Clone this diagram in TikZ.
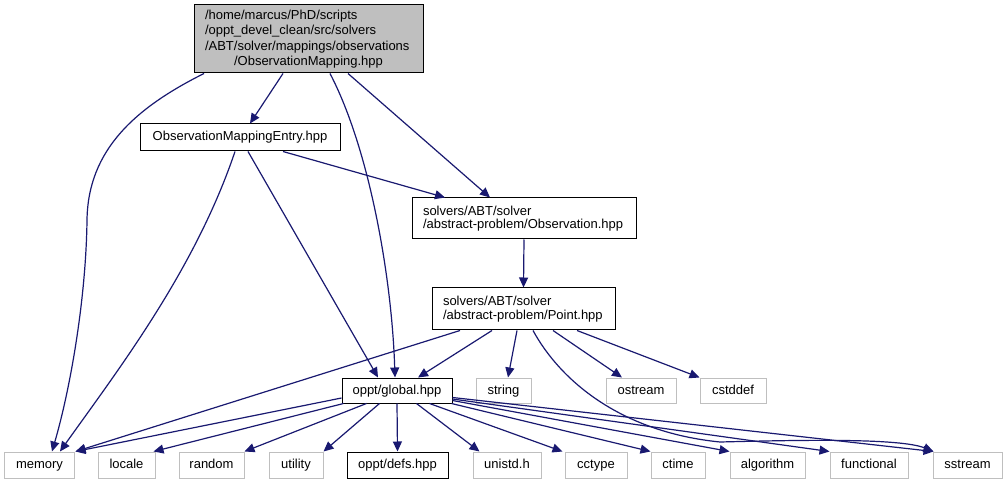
\documentclass[tikz,border=0pt]{standalone}
\usepackage{fontspec}
\setmainfont{Liberation Sans}
\usetikzlibrary{arrows.meta}
\definecolor{edgec}{HTML}{191970}
\definecolor{graybd}{HTML}{BFBFBF}
\definecolor{topfill}{HTML}{BFBFBF}
\tikzset{
  box/.style={draw=black, line width=1bp, inner sep=0pt, fill=white,
    font=\fontsize{13bp}{13.5bp}\selectfont},
  one/.style={text height=9.5bp, text depth=2.5bp},
  ext/.style={box, one, draw=graybd, minimum height=26bp},
  loc/.style={box, one, minimum height=25bp},
  edge/.style={draw=edgec, line width=1.2bp, -{Triangle[length=10bp,width=9bp]}}
}
\begin{document}
\begin{tikzpicture}[x=1bp,y=-1bp]
\useasboundingbox (0,0) rectangle (1008,484);
% nodes
\node[box, fill=topfill, minimum width=229bp, minimum height=68bp, text width=207bp, align=left,
  font=\fontsize{13bp}{15.3bp}\selectfont] (top) at (308.5,39)
  {/home/marcus/PhD/scripts\\/oppt\_devel\_clean/src/solvers\\/ABT/solver/mappings/observations\\\makebox[\linewidth]{/ObservationMapping.hpp}};
\node[box, one, minimum width=200bp, minimum height=27bp] (ome) at (240,137.5) {ObservationMappingEntry.hpp};
\node[box, minimum width=224bp, minimum height=41bp, text width=202bp, align=left] (obs) at (524,218.5)
  {solvers/ABT/solver\\/abstract-problem/Observation.hpp};
\node[box, minimum width=183bp, minimum height=42bp, text width=161bp, align=left] (pt) at (523.5,309)
  {solvers/ABT/solver\\/abstract-problem/Point.hpp};
\node[loc, minimum width=110bp] (glob) at (397,390.5) {oppt/global.hpp};
\node[ext, minimum height=25bp, minimum width=55bp] (string) at (503.5,390.5) {string};
\node[ext, minimum height=25bp, minimum width=70bp] (ostream) at (641,390.5) {ostream};
\node[ext, minimum height=25bp, minimum width=66bp] (cstddef) at (733,390.5) {cstddef};
\node[ext, minimum width=69bp] (memory) at (39.5,465) {memory};
\node[ext, minimum width=57bp] (locale) at (126.5,465) {locale};
\node[ext, minimum width=65bp] (random) at (211.5,465) {random};
\node[ext, minimum width=54bp] (utility) at (296,465) {utility};
\node[box, one, minimum height=26bp, minimum width=101bp] (defs) at (397.5,465) {oppt/defs.hpp};
\node[ext, minimum width=68bp] (unistd) at (507,465) {unistd.h};
\node[ext, minimum width=62bp] (cctype) at (596,465) {cctype};
\node[ext, minimum width=54bp] (ctime) at (678,465) {ctime};
\node[ext, minimum width=75bp] (algorithm) at (767.5,465) {algorithm};
\node[ext, minimum width=78bp] (functional) at (869,465) {functional};
\node[ext, minimum width=69bp] (sstream) at (967.5,465) {sstream};
% edges from top
\draw[edge] ([xshift=-104.5bp]top.south) .. controls (135,108) and (88,150) .. (87,220)
  .. controls (86,300) and (70,390) .. ([xshift=12.5bp]memory.north);
\draw[edge] ([xshift=-25.5bp]top.south) -- ([xshift=10bp]ome.north);
\draw[edge] ([xshift=21.5bp]top.south) .. controls (370,150) and (392,280) .. ([xshift=-2bp]glob.north);
\draw[edge] ([xshift=39.5bp]top.south) -- ([xshift=-34bp]obs.north);
% edges from ome
\draw[edge] ([xshift=-5bp]ome.south) .. controls (195,270) and (118,370) .. ([xshift=20.5bp]memory.north);
\draw[edge] ([xshift=8bp]ome.south) -- ([xshift=-19bp]glob.north);
\draw[edge] ([xshift=43bp]ome.south) -- ([xshift=-79bp]obs.north);
% obs
\draw[edge] (obs.south) -- (pt.north);
% pt
\draw[edge] ([xshift=-63.5bp]pt.south) -- ([xshift=1bp]memory.north east);
\draw[edge] ([xshift=-31.5bp]pt.south) -- ([xshift=21bp]glob.north);
\draw[edge] ([xshift=-6.5bp]pt.south) -- ([xshift=4.5bp]string.north);
\draw[edge] ([xshift=29.5bp]pt.south) -- ([xshift=-19bp]ostream.north);
\draw[edge] ([xshift=53.5bp]pt.south) -- (cstddef.north west);
\draw[edge] ([xshift=9.5bp]pt.south) .. controls (560,380) and (620,432) .. (720,442)
  .. controls (800,440) and (900,438) .. ([xshift=1bp]sstream.north west);
% glob
\draw[edge] ([yshift=-7.5bp]glob.west) -- ([xshift=1bp]memory.north east);
\draw[edge] ([xshift=2bp]glob.south west) -- ([xshift=-2bp]locale.north east);
\draw[edge] ([xshift=25bp]glob.south west) -- (random.north east);
\draw[edge] ([xshift=38bp]glob.south west) -- (utility.north east);
\draw[edge] (glob.south) -- (defs.north);
\draw[edge] ([xshift=75bp]glob.south west) -- ([xshift=7bp]unistd.north west);
\draw[edge] ([xshift=88bp]glob.south west) -- ([xshift=-2bp]cctype.north west);
\draw[edge] ([xshift=-1bp]glob.south east) -- (ctime.north west);
\draw[edge] ([yshift=-10bp]glob.east) -- (algorithm.north west);
\draw[edge] ([yshift=-8.5bp]glob.east) -- (functional.north west);
\draw[edge] ([yshift=-7bp]glob.east) -- ([xshift=1bp]sstream.north west);
\end{tikzpicture}
\end{document}
